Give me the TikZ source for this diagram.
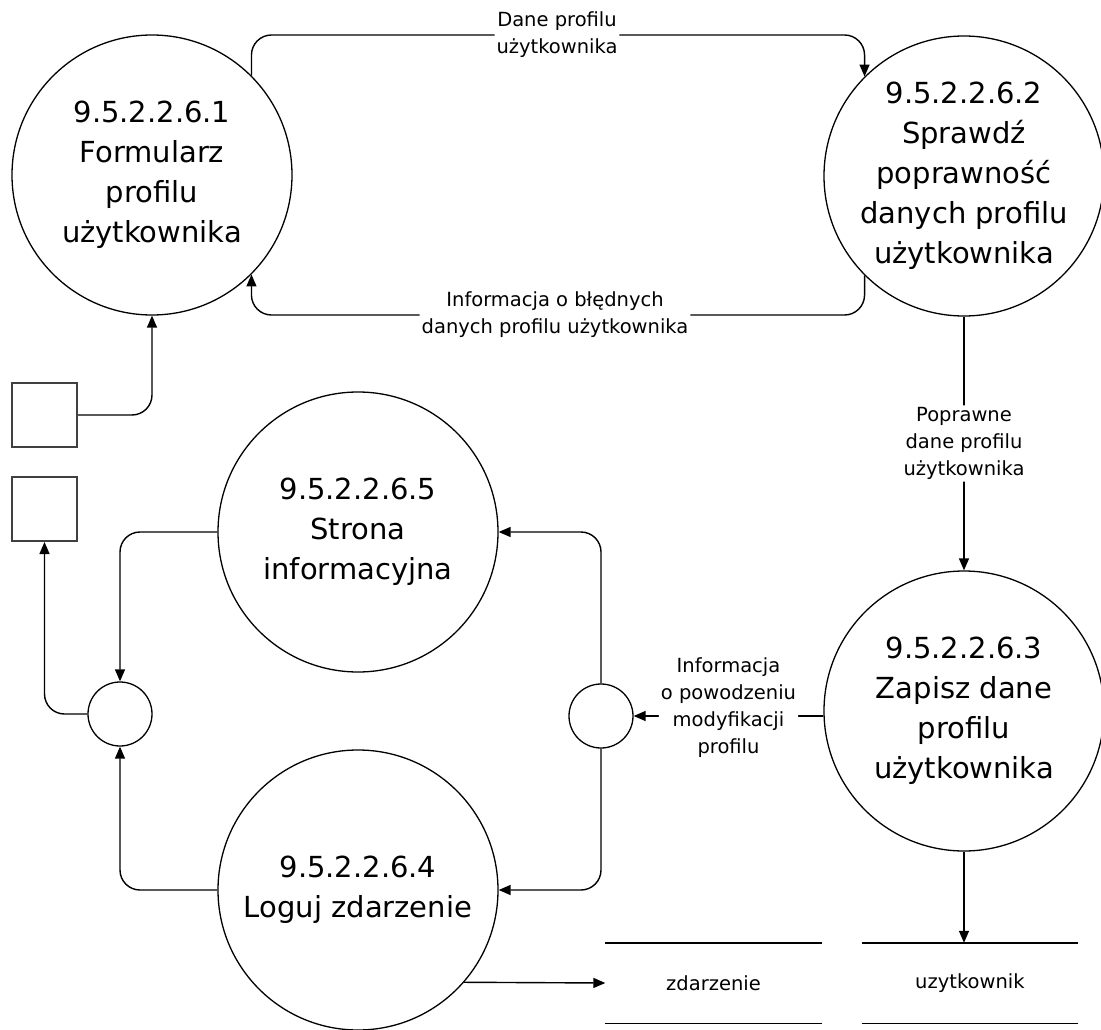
\documentclass[tikz,border=0pt]{standalone}
\usepackage{fontspec}
\setmainfont{DejaVu Sans}
\usetikzlibrary{arrows.meta, positioning}
\tikzstyle{procCircle} = [circle, draw=black, line width=1.3pt, minimum size=280pt, inner sep=0pt, align=center, font=\fontsize{29}{40}\selectfont]
\tikzstyle{joint} = [circle, draw=black, line width=1.3pt, minimum size=64pt, inner sep=0pt]
\tikzstyle{extBox} = [rectangle, draw=black!75, line width=2pt, minimum width=65pt, minimum height=64pt, inner sep=0pt]
\tikzstyle{dataStore} = [rectangle, minimum width=216pt, minimum height=80pt, font=\fontsize{19.5}{24}\selectfont]
\tikzstyle{arrowFlow} = [line width=1.4pt, rounded corners=20pt, -{Triangle[length=12pt, width=10pt]}]
\tikzstyle{flowLabel} = [fill=white, inner sep=2pt, align=center, font=\fontsize{19.5}{27}\selectfont]

\begin{document}
\begin{tikzpicture}[x=1pt, y=-1pt]

    \useasboundingbox (0,0) rectangle (1101,1030);

    \node (formProc) [procCircle] at (152,175) {9.5.2.2.6.1\\Formularz\\profilu\\użytkownika};
    \node (checkProc) [procCircle] at (964,176) {9.5.2.2.6.2\\Sprawdź\\poprawność\\danych profilu\\użytkownika};
    \node (saveProc) [procCircle] at (964,711) {9.5.2.2.6.3\\Zapisz dane\\profilu\\użytkownika};
    \node (infoProc) [procCircle] at (358,532) {9.5.2.2.6.5\\Strona\\informacyjna};
    \node (logProc) [procCircle] at (358,890) {9.5.2.2.6.4\\Loguj zdarzenie};

    \node (joinLeft) [joint] at (120,714) {};
    \node (joinRight) [joint] at (601,716) {};

    \node (extTop) [extBox] at (44.5,415) {};
    \node (extBottom) [extBox, below=28pt of extTop] {};

    \node (storeEvent) [dataStore] at (713.5,983) {zdarzenie};
    \node (storeUser) [dataStore, right=40pt of storeEvent] {uzytkownik};

    \foreach \s in {storeEvent,storeUser} {
        \draw [line width=1.4pt] (\s.north west) -- (\s.north east);
        \draw [line width=1.4pt] (\s.south west) -- (\s.south east);
    }

    \coordinate (topRoute) at (557,35);
    \coordinate (backRoute) at (555,315);

    % form <-> check
    \draw [arrowFlow] (formProc.north east) |- (topRoute) node [flowLabel] {Dane profilu\\użytkownika} -| (checkProc.north west);
    \draw [arrowFlow] (checkProc.south west) |- (backRoute) node [flowLabel] {Informacja o błędnych\\danych profilu użytkownika} -| (formProc.south east);

    \draw [arrowFlow] (extTop.east) -| (formProc.south);

    \draw [arrowFlow] (checkProc.south) -- node [flowLabel] {Poprawne\\dane profilu\\użytkownika} (saveProc.north);

    \draw [arrowFlow] (joinRight.east -| saveProc.west) -- node [flowLabel, yshift=8pt] {Informacja\\o powodzeniu\\modyfikacji\\profilu} (joinRight.east);

    \draw [arrowFlow] (joinRight.north) |- (infoProc.east);
    \draw [arrowFlow] (joinRight.south) |- (logProc.east);

    \draw [arrowFlow] (infoProc.west) -| (joinLeft.north);
    \draw [arrowFlow] (logProc.west) -| (joinLeft.south);
    \draw [arrowFlow] (joinLeft.west) -| (extBottom.south);

    % stores
    \draw [arrowFlow] (saveProc.south) -- (saveProc.south |- storeUser.north);
    \draw [arrowFlow] (logProc.-41) -- (storeEvent.west);

\end{tikzpicture}
\end{document}
